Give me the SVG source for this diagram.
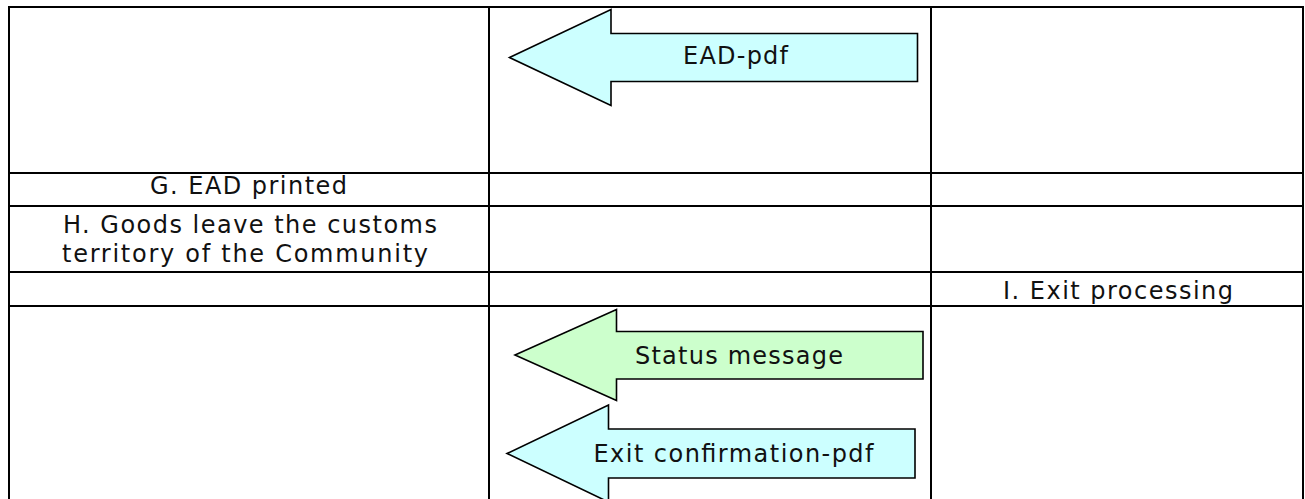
<svg xmlns="http://www.w3.org/2000/svg" width="1305" height="499" viewBox="0 0 1305 499">
  <style>
    .grid { stroke: #000; stroke-width: 2; fill: none; }
    .lbl { font-family: "DejaVu Sans", Verdana, sans-serif; font-size: 24px; fill: #111; }
    .arrow { stroke: #000; stroke-width: 1.6; stroke-linejoin: miter; }
    .cyan { fill: #CCFFFF; }
    .green { fill: #CCFFCC; }
  </style>
  <rect width="1305" height="499" fill="#fff"/>

  <!-- table grid -->
  <g id="table" class="grid">
    <line x1="8" y1="7" x2="1304" y2="7"/>
    <line x1="8" y1="173" x2="1304" y2="173"/>
    <line x1="8" y1="206" x2="1304" y2="206"/>
    <line x1="8" y1="272" x2="1304" y2="272"/>
    <line x1="8" y1="306" x2="1304" y2="306"/>
    <line x1="9" y1="6" x2="9" y2="499"/>
    <line x1="489" y1="6" x2="489" y2="499"/>
    <line x1="931" y1="6" x2="931" y2="499"/>
    <line x1="1303" y1="6" x2="1303" y2="499"/>
  </g>

  <!-- step cells -->
  <g id="step-g">
    <text class="lbl" x="150" y="194" textLength="197" lengthAdjust="spacing">G. EAD printed</text>
  </g>
  <g id="step-h">
    <text class="lbl" x="63" y="233" textLength="374" lengthAdjust="spacing">H. Goods leave the customs</text>
    <text class="lbl" x="62" y="262" textLength="366" lengthAdjust="spacing">territory of the Community</text>
  </g>
  <g id="step-i">
    <text class="lbl" x="1003" y="298.5" textLength="230" lengthAdjust="spacing">I. Exit processing</text>
  </g>

  <!-- message arrows -->
  <g id="msg-ead-pdf">
    <polygon class="arrow cyan" points="509.5,57.5 611,9.5 611,33.5 917.5,33.5 917.5,81.5 611,81.5 611,105.5"/>
    <text class="lbl" x="683" y="64" textLength="105" lengthAdjust="spacing">EAD-pdf</text>
  </g>
  <g id="msg-status">
    <polygon class="arrow green" points="515,355 616.5,309.5 616.5,331.5 923,331.5 923,379 616.5,379 616.5,400.5"/>
    <text class="lbl" x="635" y="364" textLength="208" lengthAdjust="spacing">Status message</text>
  </g>
  <g id="msg-exit-pdf">
    <polygon class="arrow cyan" points="507,453.5 608.5,405 608.5,429 915,429 915,478 608.5,478 608.5,502"/>
    <text class="lbl" x="593.5" y="462" textLength="280" lengthAdjust="spacing">Exit confirmation-pdf</text>
  </g>

  <g id="connectors"/>
</svg>
